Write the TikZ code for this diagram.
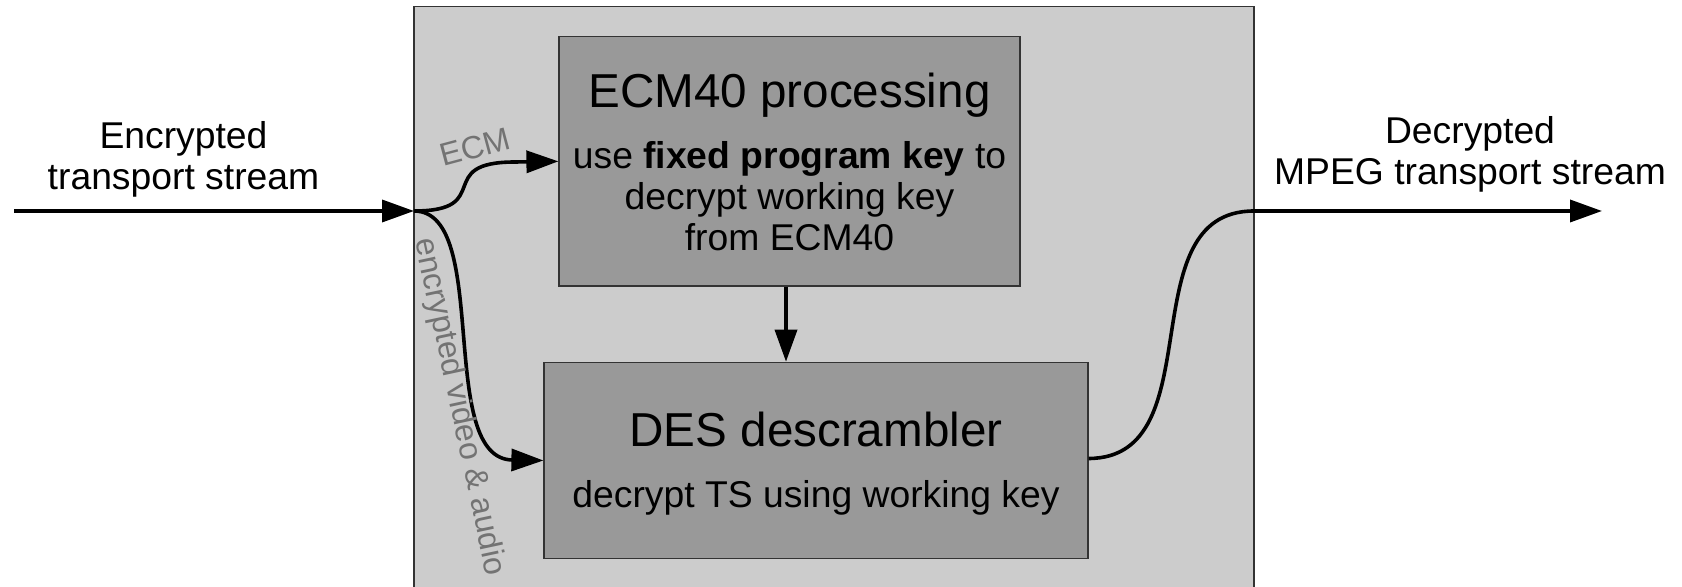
\documentclass[tikz,border=0pt]{standalone}
\usepackage{fontspec}
\setmainfont{Liberation Sans}
\usetikzlibrary{arrows.meta}
\definecolor{boxouter}{HTML}{CCCCCC}
\definecolor{boxinner}{HTML}{999999}
\definecolor{labgray}{HTML}{737373}
\definecolor{edge}{HTML}{333333}
\tikzset{
  outerbox/.style={draw=edge, line width=0.8pt, fill=boxouter, rectangle, inner sep=0pt},
  stagebox/.style={draw=edge, line width=0.6pt, fill=boxinner, rectangle, inner sep=0pt},
  titletext/.style={inner sep=0pt, font=\fontsize{23.8}{28}\selectfont},
  bodytext/.style={inner sep=0pt, align=center, font=\fontsize{18.65}{20.6}\selectfont},
  sidetext/.style={inner sep=0pt, align=center, font=\fontsize{18.65}{20.8}\selectfont},
  flowlabel/.style={inner sep=0pt, text=labgray, font=\fontsize{16}{18}\selectfont},
  flow/.style={line width=1.8pt, -{Triangle[length=16pt,width=11pt]}},
  flowplain/.style={line width=1.8pt},
}
\begin{document}
\begin{tikzpicture}[x=0.5pt,y=-0.5pt]
\useasboundingbox (0,0) rectangle (1682,587);
\clip (0,0) rectangle (1682,587);

% descrambler unit (runs off the bottom edge)
\node[outerbox, minimum width=420pt, minimum height=306.75pt] (unit) at (834,313.25) {};

% processing stages
\node[stagebox, minimum width=230.5pt, minimum height=124.65pt] (ecm) at (789.5,161.35) {};
\node[stagebox, minimum width=272pt, minimum height=98.2pt] (des) at (816,460.5) {};

% multi-line texts are placed by the baseline of their last line
\node[titletext, anchor=base] (ecmtitle) at (789.5,108) {ECM40 processing};
\node[bodytext, anchor=base] (ecmbody) at (789.5,251)
  {use \textbf{fixed program key} to\\decrypt working key\\from ECM40};
\node[titletext, anchor=base] (destitle) at (816,447) {DES descrambler};
\node[bodytext, anchor=base] (desbody) at (816,508) {decrypt TS using working key};

% stream labels outside the unit
\node[sidetext, anchor=base] (inlabel) at (183.5,190) {Encrypted\\transport stream};
\node[sidetext, anchor=base] (outlabel) at (1470,185) {Decrypted\\MPEG transport stream};

% connection points
\coordinate (src) at (14,211);
\coordinate (split) at (414,211);
\coordinate (ecmin) at (515,162);
\coordinate (avin) at (513,460);
\coordinate (exit) at (1254,211);
\coordinate (sink) at (1602,211);

% incoming stream
\draw[flow] (src) -- (split);

% ECM branch
\draw[flow] (split) .. controls (496,211) and (432,162) .. (ecmin) -- (ecm.west);
\node[flowlabel, rotate=15] (ecmlabel) at (475,147) {ECM};

% audio/video branch
\draw[flow] (split) .. controls (492,211) and (435,460) .. (avin) -- (des.west);
\node[flowlabel, rotate=-78] (avlabel) at (459,407) {encrypted video \& audio};

% working key handed to the descrambler
\draw[flow] ([xshift=-1.75pt]ecm.south) -- ([xshift=-1.75pt]ecm.south |- des.north);

% decrypted output
\draw[flowplain] ([yshift=1pt]des.east) .. controls (1215,458) and (1127,211) .. (exit);
\draw[flow] (exit) -- (sink);
\end{tikzpicture}
\end{document}
